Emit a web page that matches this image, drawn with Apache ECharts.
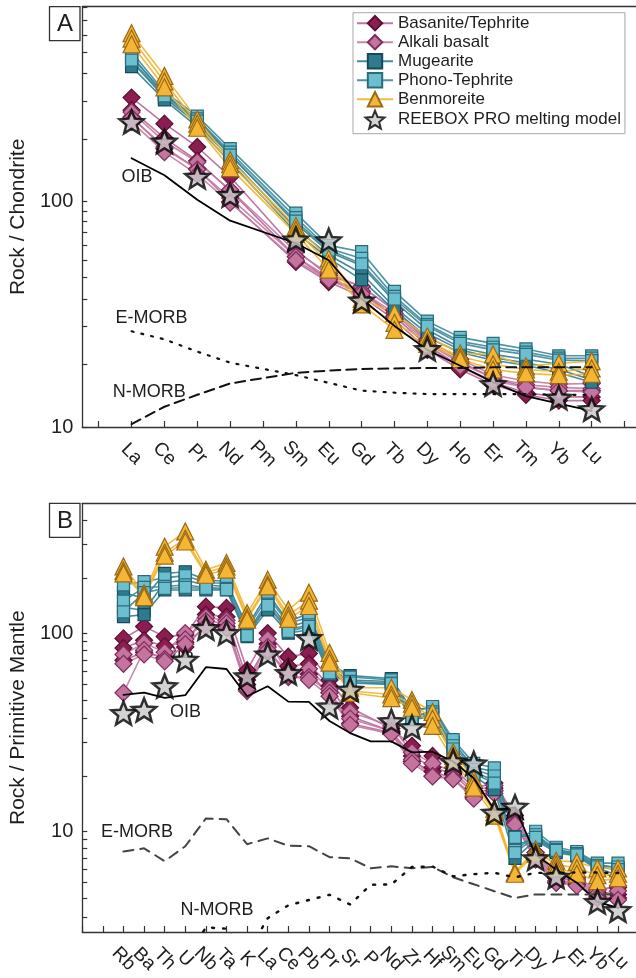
<!DOCTYPE html>
<html><head><meta charset="utf-8">
<script src="https://cdn.jsdelivr.net/npm/echarts@6/dist/echarts.min.js"></script>
<style>html,body{margin:0;padding:0;background:#fff}#c{width:636px;height:978px}</style>
</head><body><div id="c"></div>
<script>
// ---------- categories ----------
const catsA = ['La','Ce','Pr','Nd','Pm','Sm','Eu','Gd','Tb','Dy','Ho','Er','Tm','Yb','Lu'];
const catsB = ['Rb','Ba','Th','U','Nb','Ta','K','La','Ce','Pb','Pr','Sr','P','Nd','Zr','Hf','Sm','Eu','Gd','Ti','Dy','Y','Er','Yb','Lu'];

// ---------- tick values ----------
const yTicksA = [10,19,28,37,46,55,64,73,82,91,100,190,280,370,460,550,640,730];
const yLabelsA = [10,100];
const yTicksB = [3.7,4.6,5.5,6.4,7.3,8.2,9.1,10,19,28,37,46,55,64,73,82,91,100,190,280,370];
const yLabelsB = [10,100];

// ---------- panel A : Rock / Chondrite ----------
const basaniteA = [
 [290,222,175,129,null,61,47,42,33,24,19.5,16.5,15,14.5,14.5],
 [255,192,152,112,null,57,45,40,31,23,18.5,15.8,14.2,13.6,13.6],
 [238,172,140,100,null,54,44,38,30,22,18,15.4,13.9,13.1,13.1]
];
const alkaliA = [
 [250,185,150,113,null,60,48,42,33,24.5,20,17,16,15.5,15.6],
 [236,175,139,104,null,57,46,40,32,23.5,19.2,16.5,15.4,15,14.8],
 [226,166,132,99,null,55,45,39,31,23,18.6,16,15,14.5,14.3]
];
const mugeariteA = [
 [445,300,232,162,null,80,60,52,36,27,22.5,21,20,19,16.8],
 [420,290,222,156,null,76,58,48,34,26,22,20.3,19.3,18,16.2],
 [398,283,215,150,null,73,56,45,33,25,21.4,19.8,18.8,17.4,15.8]
];
const phonoA = [
 [462,308,240,172,null,89,64,60,40,29.5,25,23.5,22.2,20.7,20.7],
 [440,300,233,166,null,85,62,56,38,28.5,24,22.6,21.5,20.2,20.2],
 [425,295,228,161,null,82,61,53,37,28,23.5,22,21,19.8,19.7]
];
const benmoreiteA = [
 [560,362,232,153,null,78,56,37,32,25.2,21.2,21,18.6,19.2,19.6],
 [530,342,222,147,null,75,53,36,29,24,20.5,19,18,17.6,18.2],
 [500,322,213,141,null,72,50,35,27,23.4,20,18,17.3,17,17.2]
];
const reeboxA = [226,185,129,107,null,68,67.4,36.4,null,22.2,null,15.5,null,13.5,12];
const oibA   = [156,131,102,82.4,null,65.4,55,37.1,28.1,22,18.7,15.8,13.7,12.7,11.8];
const emorbA = [26.6,24.5,21.6,19.3,null,17,15.7,14.5,14.2,14,14,14,14,13.9,13.9];
const nmorbA = [10.3,12.3,13.9,15.6,null,17.4,17.8,18.1,18.2,18.3,18.3,18.4,18.4,18.4,18.4];

// ---------- panel B : Rock / Primitive Mantle ----------
const basaniteB = [
 [94,108,96,98,136,134,65,100,76,79,58,42,null,33,27,24,21,16.5,17.5,12,7.8,6,5.8,5.1,5.2],
 [84,92,86,90,124,121,58,88,68,70,54,38,null,32,24,21,19.5,15.5,16.5,11.5,7.5,5.8,5.6,4.9,4.8],
 [73,80,75,85,110,108,55,80,64,62,50,35,null,31.4,22.5,20,18.5,14.8,16,11,7.2,5.5,5.4,4.7,4.6]
];
const alkaliB = [
 [78,89,80,100,120,116,52,93,62,66,52,40,null,34,25,22,20,16,17,11.5,7.8,5.9,5.7,5,5.3],
 [50,82,74,93,115,112,51,85,60,60,50,37,null,32,23,19,18.5,15,16,11,7.4,5.6,5.5,4.8,5],
 [70,78,72,88,108,106,52,82,61,58,48,34.4,null,31,22,18.9,18.3,14.6,15.5,10.8,7.2,5.5,5.3,4.6,4.5]
];
const mugeariteB = [
 [160,150,200,204,186,182,108,159,114,126,70,61,null,59,41,42,28,21,20,9.4,9.5,8,7.8,6.8,6.5],
 [135,130,180,185,175,172,100,145,107,115,66,58,null,57,38,40,26,20,18,8.5,9.2,7.9,7.6,6.5,6],
 [121,124,165,165,165,165,96,131,100,104,62,56,null,55,36.6,38,25,19,16.2,7.3,9,7.8,7.5,6.4,5.7]
];
const phonoB = [
 [175,182,190,195,180,178,105,152,112,120,68,60,null,58,40,42.6,29,22,20.9,9.3,10,8.3,7.9,6.9,6.9],
 [145,170,172,175,170,168,98,140,104,110,64,57,null,56,38,40,27,20.5,19,8,9.6,8.1,7.7,6.7,6.6],
 [128,160,168,170,168,166,97,138,102,108,63,56,null,55.5,37,39,26,19.5,17.5,7.8,9.3,8,7.6,6.6,6.4]
];
const benmoreiteB = [
 [217,159,273,326,209,226,126,186,131,160,79.5,53,null,53,46,40,25,18.3,13,6.2,8.1,7.1,7,6.5,6.5],
 [206,155,255,300,202,217,120,176,123,146,74,51,null,49,44,37,24,17.5,12.5,6.2,7.9,6.8,6.5,6,6.1],
 [200,152,246,290,197,209,117,172,118,137,71,50,null,47,42,34,23,16.6,12,6.1,7.7,6.5,6.1,5.6,5.8]
];
const reeboxB = [39.5,41,54,73.4,106,100,60.5,78,63,94.4,42.6,51.8,null,35.9,33.5,null,22.5,22,12.4,13.3,7.3,5.9,null,4.4,4];
const oibB   = [48.8,50.1,47.1,48.6,67.3,65.9,48,53.9,45.1,45,36,31.3,28.4,28.4,25,25.2,22.5,18.5,12.8,13.2,7.6,6.4,5.5,4.4,4.1];
const emorbB = [7.9,8.2,7.06,8.4,11.6,11.5,8.6,9.2,8.45,8.4,7.4,7.3,6.5,6.65,6.5,6.6,5.86,5.4,4.98,4.6,4.8,4.8,4.8,4.8,4.8];
const nmorbB = [0.88,0.9,1.41,2.24,3.27,3.22,2.4,3.64,4.23,null,4.78,4.27,5.37,5.39,6.6,6.63,5.92,6.07,6.17,5.85,6.17,6.15,6.19,6.19,6.15];

// ---------- styling ----------
const FONT = 'Liberation Sans, Arial, sans-serif';
const STAR = 'path://M50,0L62.93,32.2L97.55,34.55L70.92,56.8L79.39,90.45L50,72L20.61,90.45L29.08,56.8L2.45,34.55L37.07,32.2Z';
const groups = [
 {name:'Basanite/Tephrite', symbol:'diamond', size:17, fill:'#8c1d50', border:'#5a0f33', line:'#b8669a', A:basaniteA, B:basaniteB},
 {name:'Alkali basalt', symbol:'diamond', size:17, fill:'#c5749f', border:'#7f2d5b', line:'#c47aa3', A:alkaliA, B:alkaliB},
 {name:'Mugearite', symbol:'rect', size:12, fill:'#2d7b8c', border:'#17495a', line:'#2f8092', A:mugeariteA, B:mugeariteB},
 {name:'Phono-Tephrite', symbol:'rect', size:12, fill:'#6cbfcf', border:'#2b6b7b', line:'#3a8a9b', A:phonoA, B:phonoB},
 {name:'Benmoreite', symbol:'triangle', size:17, fill:'#f5b636', border:'#9b6a14', line:'#f2b32d', A:benmoreiteA, B:benmoreiteB}
];
const REEBOX = 'REEBOX PRO melting model';

const toPts = row => row.map((v,i) => v == null ? null : [i, v]).filter(p => p);
const AXC = '#333', TXC = '#1e1e1e';

// panel geometry (pixel layout only)
const L = 80;
const yMaxA = 734, yMinA = 10, yMaxB = 452, yMinB = 3.1;
const xMinA = -1.5, xMaxA = -1.5 + 556/33;
const xMinB = -2, xMaxB = -2 + 556/20.69;
const rng = (a,b,s) => { const r=[]; for (let i=a;i<=b;i+=(s||1)) r.push(i); return r; };

function catLabel(cats, vals) {
  return {show:true, customValues: vals, formatter: v => cats[Math.round(v)],
    rotate:-45, align:'center', verticalAlign:'middle', margin:27, fontSize:19, color:TXC, fontFamily:FONT};
}
// three x axes per panel: bottom (line, ticks, even labels), top (frame line), bottom (odd labels)
function xAxes(grid, min, max, cats) {
  return [
    {type:'value', gridIndex:grid, min, max, position:'bottom',
     axisLine:{show:true, onZero:false, lineStyle:{color:AXC, width:1.3}},
     axisTick:{show:true, inside:true, length:6, customValues: rng(Math.ceil(min), Math.floor(max)), lineStyle:{color:AXC, width:1.2}},
     axisLabel: catLabel(cats, rng(0, cats.length-1, 2)),
     splitLine:{show:false}},
    {type:'value', gridIndex:grid, min, max, position:'top',
     axisLine:{show:true, onZero:false, lineStyle:{color:AXC, width:1.3}},
     axisTick:{show:false}, axisLabel:{show:false}, splitLine:{show:false}},
    {type:'value', gridIndex:grid, min, max, position:'bottom', offset:0,
     axisLine:{show:false, onZero:false}, axisTick:{show:false},
     axisLabel: catLabel(cats, rng(1, cats.length-1, 2)),
     splitLine:{show:false}}
  ];
}
function yAxes(grid, min, max, ticks, labels, name) {
  return [
    {type:'log', logBase:10, gridIndex:grid, min, max, show:false, splitLine:{show:false}},
    {type:'value', gridIndex:grid, min:Math.log10(min), max:Math.log10(max), position:'left',
     axisLine:{show:true, onZero:false, lineStyle:{color:AXC, width:1.3}},
     axisTick:{show:true, inside:true, length:5, customValues: ticks.map(Math.log10), lineStyle:{color:AXC, width:1.2}},
     axisLabel:{show:true, customValues: labels.map(Math.log10), formatter: v => String(Math.round(Math.pow(10, v))),
       fontSize:20, color:TXC, margin:9, fontFamily:FONT},
     splitLine:{show:false},
     name, nameLocation:'middle', nameGap:48, nameTextStyle:{fontSize:21, color:TXC, fontFamily:FONT}}
  ];
}

const series = [];
[['A',0],['B',1]].forEach(([key, p]) => {
  const xi = p*3, yi = p*2;
  groups.forEach(g => {
    g[key].forEach(row => series.push({
      name:g.name, type:'line', xAxisIndex:xi, yAxisIndex:yi, data:toPts(row),
      symbol:g.symbol, symbolSize:g.size, showAllSymbol:true,
      itemStyle:{color:g.fill, borderColor:g.border, borderWidth:1.2},
      lineStyle:{color:g.line, width:1.6, opacity:0.9},
      z:2, silent:true, animation:false
    }));
  });
  const refs = key === 'A'
    ? [[oibA,'OIB','solid',1.8,'#000'],[emorbA,'E-MORB',[2,8],2.2,'#111'],[nmorbA,'N-MORB',[10,6],2,'#111']]
    : [[oibB,'OIB','solid',1.8,'#000'],[emorbB,'E-MORB',[10,7],2,'#444'],[nmorbB,'N-MORB',[2,9],2.4,'#111']];
  refs.forEach(([arr, nm, type, w, col]) => series.push({
    name:nm + ' ' + key, type:'line', xAxisIndex:xi, yAxisIndex:yi, data:toPts(arr),
    symbol:'none', lineStyle:{color:col, width:w, type, cap:'round'}, z:3, silent:true, animation:false, clip:true
  }));
  series.push({
    name:REEBOX, type:'scatter', xAxisIndex:xi, yAxisIndex:yi, data:toPts(key==='A'?reeboxA:reeboxB),
    symbol:STAR, symbolSize:24, symbolKeepAspect:true,
    itemStyle:{color:'#c8c8c8', borderColor:'#000', borderWidth:2.5}, z:4, silent:true, animation:false
  });
});

const txt = (x, y, t, size, align) => ({type:'text', x, y, z:1,
  style:{text:t, font: size + 'px ' + FONT, fill:TXC, align:align||'left', verticalAlign:'middle'}});

const option = {
  animation:false,
  textStyle:{fontFamily:FONT},
  grid:[
    {left:L, right:0, top:6.7, height:420.3},
    {left:L, right:0, top:503.3, height:428.7}
  ],
  xAxis: xAxes(0, xMinA, xMaxA, catsA).concat(xAxes(1, xMinB, xMaxB, catsB)),
  yAxis: yAxes(0, yMinA, yMaxA, yTicksA, yLabelsA, 'Rock / Chondrite')
         .concat(yAxes(1, yMinB, yMaxB, yTicksB, yLabelsB, 'Rock / Primitive Mantle')),
  legend:{
    data: groups.map(g => g.name).concat([REEBOX]),
    orient:'vertical', left:353, top:12.7, itemWidth:36, itemHeight:18, itemGap:2,
    padding:[2,4,4,3], borderColor:'#a8a8a8', borderWidth:1, backgroundColor:'#fff',
    textStyle:{fontSize:17, color:TXC, fontFamily:FONT}, selectedMode:false, z:10
  },
  graphic:[
    {type:'rect', z:1, shape:{x:49.5, y:6.7, width:30.5, height:34}, style:{fill:'#fff', stroke:AXC, lineWidth:1.3}},
    txt(65, 24.5, 'A', 24, 'center'),
    {type:'rect', z:1, shape:{x:49.5, y:503.3, width:30.5, height:34}, style:{fill:'#fff', stroke:AXC, lineWidth:1.3}},
    txt(65, 521, 'B', 24, 'center'),
    txt(121.5, 177, 'OIB', 18),
    txt(115.5, 318.5, 'E-MORB', 18),
    txt(112.8, 391.7, 'N-MORB', 18),
    txt(162.7, 653.3, 'OIB', 18),
    txt(170, 711.7, 'OIB', 18),
    txt(101, 831.7, 'E-MORB', 18),
    txt(180.5, 910, 'N-MORB', 18)
  ],
  series
};
const chart = echarts.init(document.getElementById('c'), null, {renderer:'canvas'});
chart.setOption(option);
</script>
</body></html>
